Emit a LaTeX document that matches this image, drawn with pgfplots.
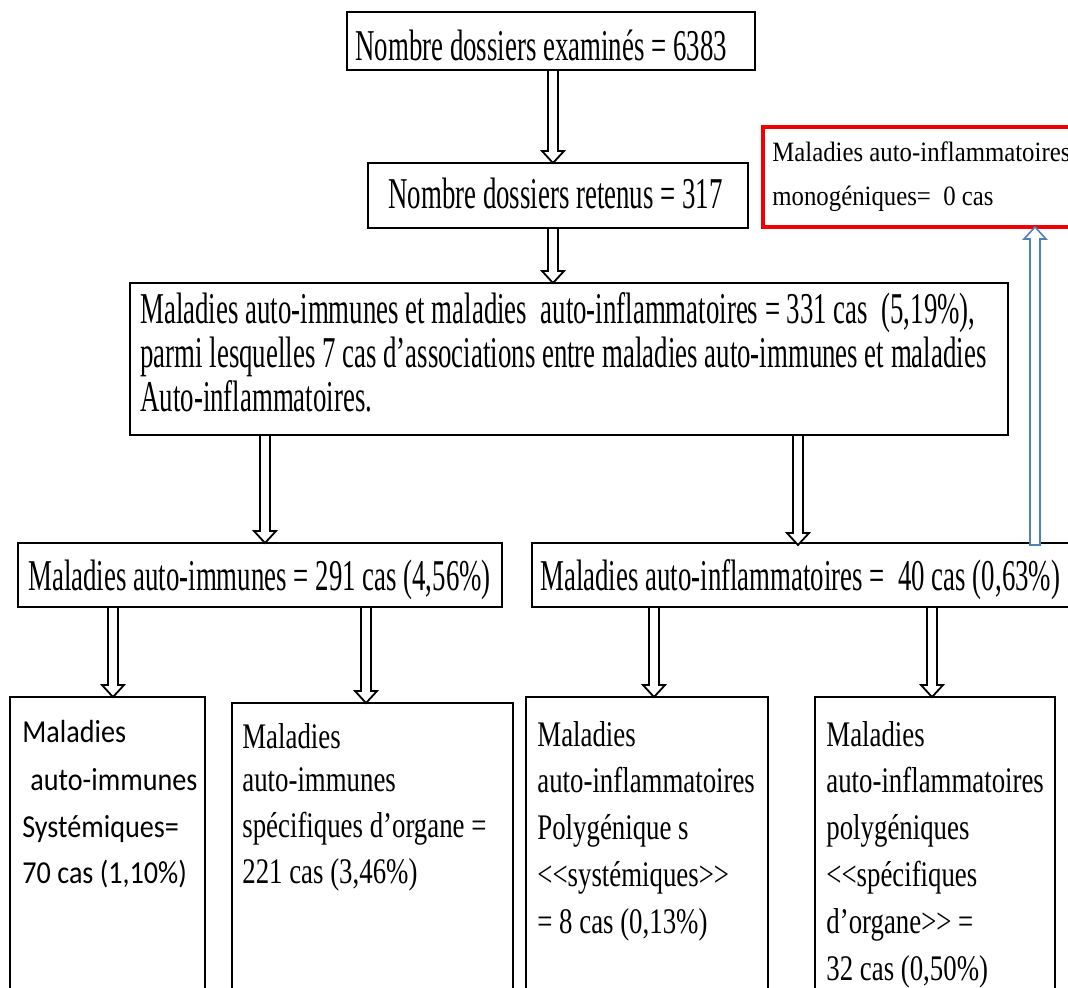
\documentclass[border=0pt]{standalone}
\usepackage{fontspec}
\setmainfont{Liberation Serif}
\newfontfamily\fa[FakeStretch=0.61]{Liberation Serif}
\newfontfamily\fb[FakeStretch=0.745]{Liberation Serif}
\newfontfamily\fr[FakeStretch=0.885]{Liberation Serif}
\newfontfamily\fc[FakeStretch=0.88]{Carlito}
\usepackage{pgfplots}
\pgfplotsset{compat=1.18}
\definecolor{arrowblue}{RGB}{79,129,189}
\definecolor{boxred}{RGB}{240,0,0}
\begin{document}
\begin{tikzpicture}
\path[use as bounding box, clip] (0,0) rectangle (534pt,493.5pt);
\begin{axis}[at={(0,0)}, anchor=south west, width=534pt, height=493.5pt, scale only axis,
  xmin=0, xmax=1068, ymin=0, ymax=987, y dir=reverse, hide axis, clip=true]
% boxes
\addplot[black, fill=white, line width=1.3pt] coordinates {(347,12)(755,12)(755,70)(347,70)} --cycle;
\addplot[black, fill=white, line width=1.3pt] coordinates {(368,163)(748,163)(748,228)(368,228)} --cycle;
\addplot[boxred, fill=white, line width=2pt] coordinates {(763,127)(1080,127)(1080,227)(763,227)} --cycle;
\addplot[black, fill=white, line width=1.3pt] coordinates {(130,283)(1008,283)(1008,435)(130,435)} --cycle;
\addplot[black, fill=white, line width=1.3pt] coordinates {(18,543)(502,543)(502,607)(18,607)} --cycle;
\addplot[black, fill=white, line width=1.3pt] coordinates {(532,543)(1080,543)(1080,607)(532,607)} --cycle;
\addplot[black, fill=white, line width=1.3pt] coordinates {(10,697)(205,697)(205,1000)(10,1000)} --cycle;
\addplot[black, fill=white, line width=1.3pt] coordinates {(232,703)(513,703)(513,1000)(232,1000)} --cycle;
\addplot[black, fill=white, line width=1.3pt] coordinates {(526,697)(768,697)(768,1000)(526,1000)} --cycle;
\addplot[black, fill=white, line width=1.3pt] coordinates {(815,697)(1055,697)(1055,1000)(815,1000)} --cycle;
% arrows
\addplot[black, fill=white, line width=0.9pt] coordinates {(548,70)(548,151)(542,151)(553,163)(564,151)(558,151)(558,70)} --cycle;
\addplot[black, fill=white, line width=0.9pt] coordinates {(548,228)(548,271)(542,271)(553,283)(564,271)(558,271)(558,228)} --cycle;
\addplot[black, fill=white, line width=0.9pt] coordinates {(260,435)(260,531)(254,531)(265,543)(276,531)(270,531)(270,435)} --cycle;
\addplot[black, fill=white, line width=0.9pt] coordinates {(793,435)(793,533)(787,533)(798,545)(809,533)(803,533)(803,435)} --cycle;
\addplot[black, fill=white, line width=0.9pt] coordinates {(108,607)(108,685)(102,685)(113,697)(124,685)(118,685)(118,607)} --cycle;
\addplot[black, fill=white, line width=0.9pt] coordinates {(361,607)(361,691)(355,691)(366,703)(377,691)(371,691)(371,607)} --cycle;
\addplot[black, fill=white, line width=0.9pt] coordinates {(649,607)(649,685)(643,685)(654,697)(665,685)(659,685)(659,607)} --cycle;
\addplot[black, fill=white, line width=0.9pt] coordinates {(927,607)(927,685)(921,685)(932,697)(943,685)(937,685)(937,607)} --cycle;
\addplot[arrowblue, fill=white, line width=0.8pt] coordinates {(1030,545)(1030,239)(1024,239)(1035,227)(1046,239)(1040,239)(1040,545)} --cycle;
% texts
\tikzset{t/.style={anchor=base west, inner sep=0pt}}
\node[t, font=\fa\fontsize{22}{26}\selectfont] at (axis cs:355,60) {Nombre dossiers examinés = 6383};
\node[t, font=\fa\fontsize{22}{26}\selectfont] at (axis cs:388,208) {Nombre dossiers retenus = 317};
\node[t, font=\fr\fontsize{14}{16}\selectfont] at (axis cs:772,161) {Maladies auto-inflammatoires};
\node[t, font=\fr\fontsize{14}{16}\selectfont] at (axis cs:772,205) {monogéniques=\ \ 0 cas};
\node[t, font=\fa\fontsize{22}{26}\selectfont] at (axis cs:140,323) {Maladies auto-immunes et maladies\ \ auto-inflammatoires = 331 cas\ \ (5,19\%),};
\node[t, font=\fa\fontsize{22}{26}\selectfont] at (axis cs:140,367) {parmi lesquelles\ 7 cas\ d’associations entre maladies auto-immunes et maladies};
\node[t, font=\fa\fontsize{22}{26}\selectfont] at (axis cs:140,411) {Auto-inflammatoires.};
\node[t, font=\fa\fontsize{22}{26}\selectfont] at (axis cs:28,590) {Maladies auto-immunes = 291 cas (4,56\%)};
\node[t, font=\fa\fontsize{22}{26}\selectfont] at (axis cs:540,590) {Maladies auto-inflammatoires =\ \ 40 cas (0,63\%)};
% bottom boxes
\node[t, font=\fc\fontsize{16}{20}\selectfont] at (axis cs:22,742) {Maladies};
\node[t, font=\fc\fontsize{16}{20}\selectfont] at (axis cs:30,790) {auto-immunes};
\node[t, font=\fc\fontsize{16}{20}\selectfont] at (axis cs:22,837) {Systémiques=};
\node[t, font=\fc\fontsize{16}{20}\selectfont] at (axis cs:22,883) {70 cas (1,10\%)};
\node[t, font=\fb\fontsize{18}{22}\selectfont] at (axis cs:242,748) {Maladies};
\node[t, font=\fb\fontsize{18}{22}\selectfont] at (axis cs:242,791) {auto-immunes};
\node[t, font=\fb\fontsize{18}{22}\selectfont] at (axis cs:242,837) {spécifiques d’organe =};
\node[t, font=\fb\fontsize{18}{22}\selectfont] at (axis cs:242,883) {221 cas (3,46\%)};
\node[t, font=\fb\fontsize{18}{22}\selectfont] at (axis cs:537,746) {Maladies};
\node[t, font=\fb\fontsize{18}{22}\selectfont] at (axis cs:537,792) {auto-inflammatoires};
\node[t, font=\fb\fontsize{18}{22}\selectfont] at (axis cs:537,839) {Polygénique s};
\node[t, font=\fb\fontsize{18}{22}\selectfont] at (axis cs:537,886) {<\kern0pt<systémiques>\kern0pt>};
\node[t, font=\fb\fontsize{18}{22}\selectfont] at (axis cs:537,933) {= 8 cas (0,13\%)};
\node[t, font=\fb\fontsize{18}{22}\selectfont] at (axis cs:826,746) {Maladies};
\node[t, font=\fb\fontsize{18}{22}\selectfont] at (axis cs:826,792) {auto-inflammatoires};
\node[t, font=\fb\fontsize{18}{22}\selectfont] at (axis cs:826,839) {polygéniques};
\node[t, font=\fb\fontsize{18}{22}\selectfont] at (axis cs:826,886) {<\kern0pt<spécifiques};
\node[t, font=\fb\fontsize{18}{22}\selectfont] at (axis cs:826,933) {d’organe>\kern0pt> =};
\node[t, font=\fb\fontsize{18}{22}\selectfont] at (axis cs:826,980) {32 cas (0,50\%)};
\end{axis}
\end{tikzpicture}
\end{document}
